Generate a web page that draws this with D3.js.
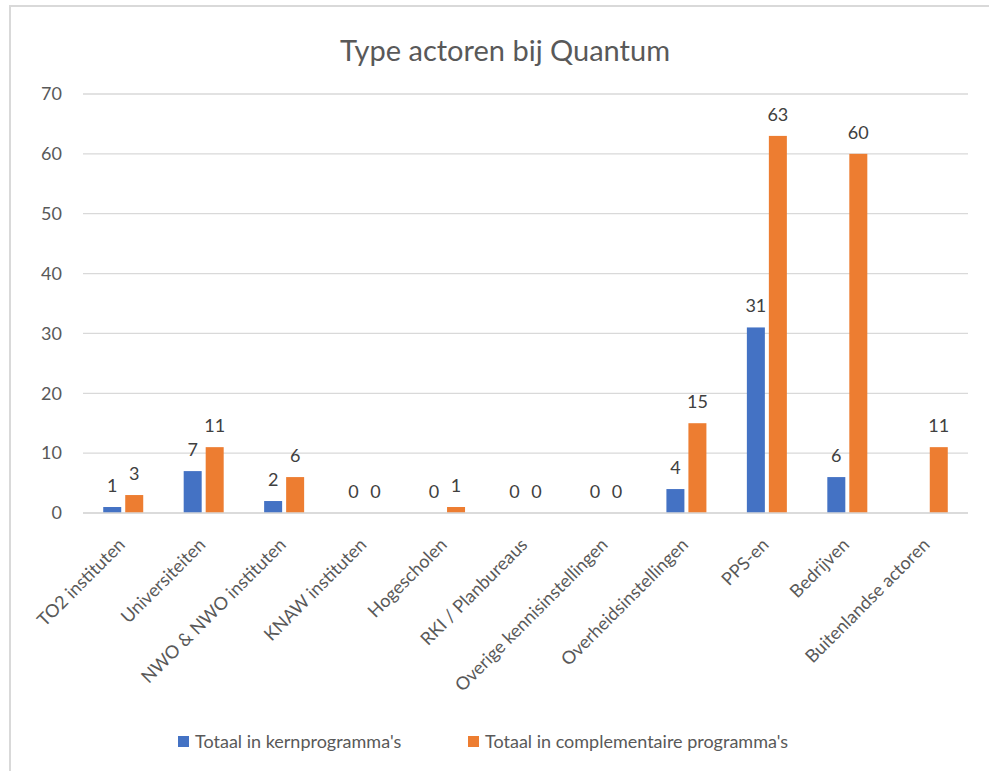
<!DOCTYPE html>
<html>
<head>
<meta charset="utf-8">
<script src="https://cdn.jsdelivr.net/npm/d3@7"></script>
<style>
  html, body { margin: 0; padding: 0; background: #fff; }
  svg { display: block; font-family: Lato, "Open Sans", sans-serif; }
</style>
</head>
<body>
<svg id="chart" width="989" height="771"></svg>
<script>
// Actor types and counts per programme type
const categories = [
  "TO2 instituten", "Universiteiten", "NWO & NWO instituten", "KNAW instituten",
  "Hogescholen", "RKI / Planbureaus", "Overige kennisinstellingen",
  "Overheidsinstellingen", "PPS-en", "Bedrijven", "Buitenlandse actoren"
];
const kernValues = [1, 7, 2, 0, 0, 0, 0, 4, 31, 6, null];
const complValues = [3, 11, 6, 0, 1, 0, 0, 15, 63, 60, 11];
const seriesNames = ["Totaal in kernprogramma's", "Totaal in complementaire programma's"];
const yTicks = [0, 10, 20, 30, 40, 50, 60, 70];

const colors = ["#4472C4", "#ED7D31"];
const font = "Lato, \"Open Sans\", sans-serif";
const svg = d3.select("#chart");

// Chart frame
svg.append("path")
  .attr("d", "M10,771 L10,6 L989,6")
  .attr("fill", "none")
  .attr("stroke", "#d9d9d9")
  .attr("stroke-width", 2);

svg.append("text")
  .attr("x", 505).attr("y", 61)
  .attr("text-anchor", "middle")
  .attr("font-size", 29)
  .attr("fill", "#595959")
  .text("Type actoren bij Quantum");

const x0 = d3.scaleBand().domain(categories).range([83, 968]).paddingInner(0).paddingOuter(0);
const y = d3.scaleLinear().domain([0, 70]).range([513, 94]);

// Gridlines
svg.append("g").selectAll("line").data(yTicks).join("line")
  .attr("x1", 83).attr("x2", 968)
  .attr("y1", d => y(d)).attr("y2", d => y(d))
  .attr("stroke", "#d9d9d9").attr("stroke-width", 1.3);

// Y axis tick labels
const yAxis = d3.axisLeft(y).tickValues(yTicks).tickSize(0).tickPadding(0);
const gy = svg.append("g").attr("transform", "translate(62,0)").call(yAxis);
gy.select(".domain").remove();
gy.selectAll("text").attr("font-size", 18).attr("fill", "#595959")
  .attr("font-family", font);

const barW = 18, gap = 4;
const series = [kernValues, complValues];

series.forEach((vals, s) => {
  const g = svg.append("g");
  const data = categories.map((c, i) => ({ c, v: vals[i] }));
  const xPos = d => x0(d.c) + x0.bandwidth() / 2 + (s === 0 ? -gap / 2 - barW : gap / 2);
  g.selectAll("rect").data(data.filter(d => d.v !== null)).join("rect")
    .attr("x", xPos)
    .attr("y", d => y(d.v))
    .attr("width", barW)
    .attr("height", d => y(0) - y(d.v))
    .attr("fill", colors[s]);
  g.selectAll("text").data(data.filter(d => d.v !== null)).join("text")
    .attr("x", d => xPos(d) + barW / 2)
    .attr("y", d => y(d.v) - 15)
    .attr("text-anchor", "middle")
    .attr("font-size", 18)
    .attr("fill", "#404040")
    .text(d => d.v);
});

// Baseline
svg.append("line")
  .attr("x1", 83).attr("x2", 968)
  .attr("y1", y(0)).attr("y2", y(0))
  .attr("stroke", "#d9d9d9").attr("stroke-width", 1.5);

// Rotated category labels
const xAxis = d3.axisBottom(x0).tickSize(0).tickPadding(0);
const gx = svg.append("g").attr("transform", `translate(0,${y(0)})`).call(xAxis);
gx.select(".domain").remove();
gx.selectAll("text")
  .attr("font-size", 18)
  .attr("fill", "#595959")
  .attr("font-family", font)
  .attr("text-anchor", "end")
  .attr("dy", null)
  .attr("y", 0)
  .attr("transform", "translate(3,33) rotate(-45)");

// Legend
const legend = svg.append("g");
const legX = [178, 468];
seriesNames.forEach((n, i) => {
  legend.append("rect").attr("x", legX[i]).attr("y", 736).attr("width", 11).attr("height", 11).attr("fill", colors[i]);
  legend.append("text").attr("x", legX[i] + 17).attr("y", 748)
    .attr("font-size", 18).attr("fill", "#595959").text(n);
});
</script>
</body>
</html>
